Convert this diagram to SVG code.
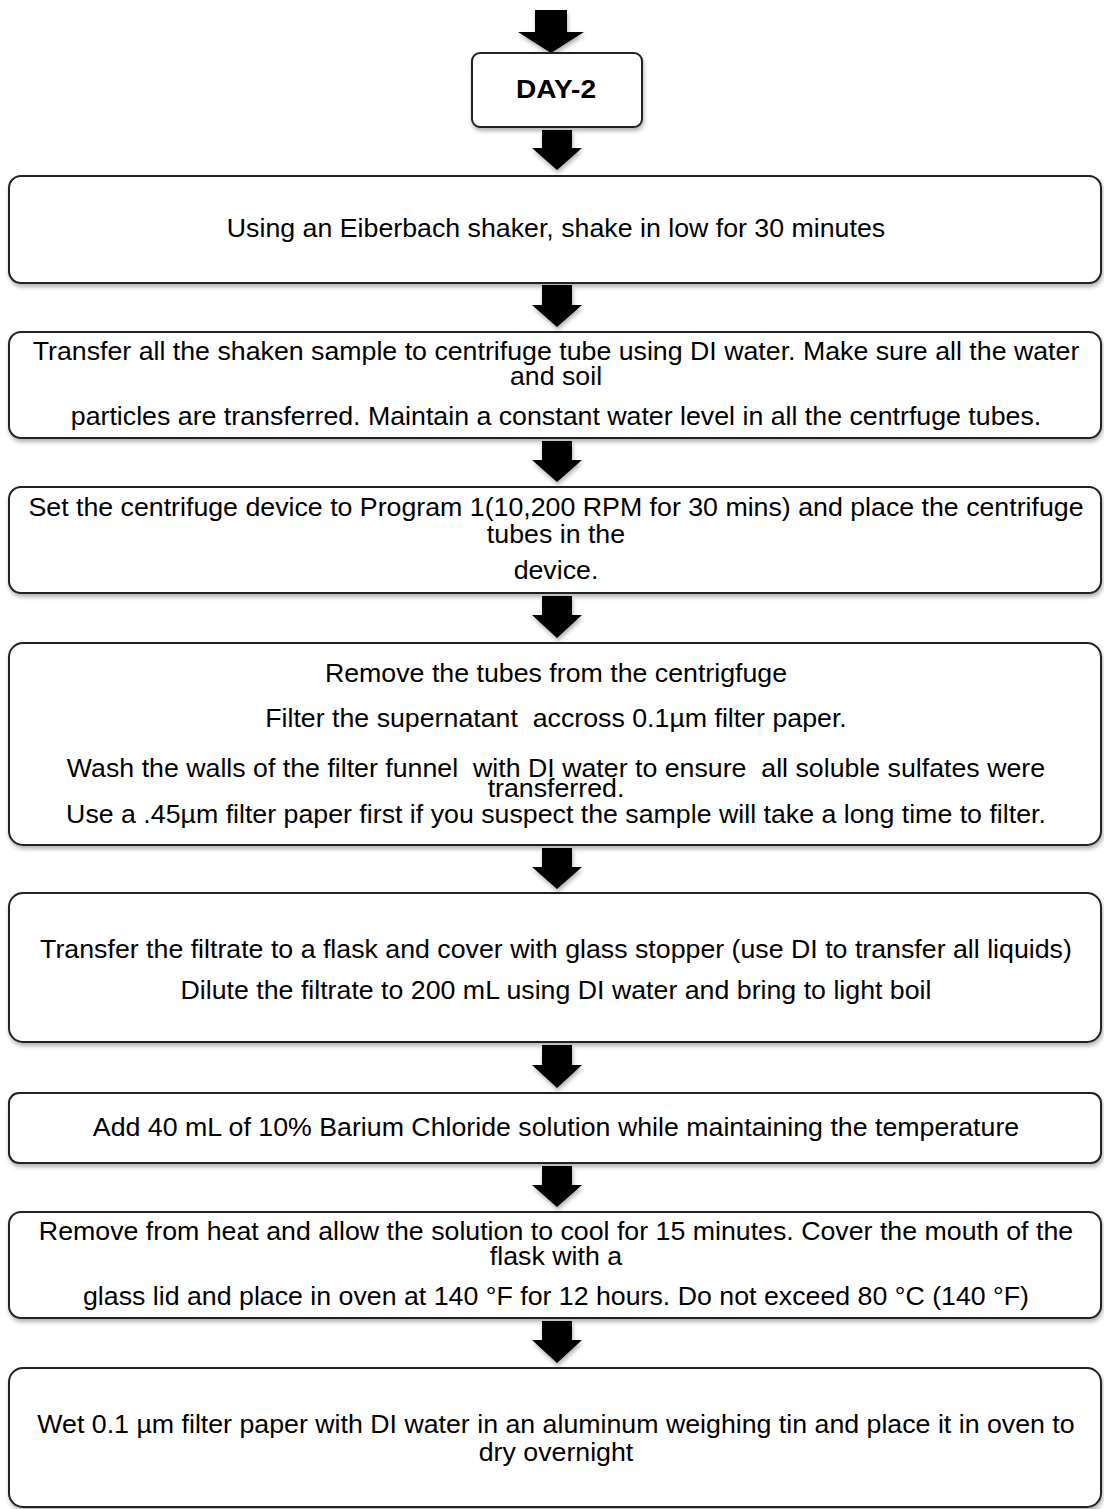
<svg xmlns="http://www.w3.org/2000/svg" width="1104" height="1509" viewBox="0 0 1104 1509">
<defs>
<filter id="sh" x="-5%" y="-20%" width="110%" height="150%">
<feDropShadow dx="1" dy="3" stdDeviation="2" flood-color="#000" flood-opacity="0.3"/>
</filter>
</defs>
<style>
.box{fill:#fff;stroke:#222;stroke-width:2;filter:url(#sh)}
.t{font-family:"Liberation Sans",Arial,sans-serif;font-size:25px;fill:#000;text-anchor:middle}
.b{font-weight:bold;font-size:26px}
.arr{fill:#000;filter:url(#sh)}
</style>
<rect width="1104" height="1509" fill="#fff"/>
<g id="connectors">
<polygon class="arr" points="535,10 567,10 567,32 584,32 551,53 518,32 535,32"/>
<polygon class="arr" points="542,130 572,130 572,148 582,148 557,170 532,148 542,148"/>
<polygon class="arr" points="542,285 572,285 572,305 582,305 557,327 532,305 542,305"/>
<polygon class="arr" points="542,441 572,441 572,460 582,460 557,482 532,460 542,460"/>
<polygon class="arr" points="542,596 572,596 572,615 582,615 557,638 532,615 542,615"/>
<polygon class="arr" points="542,848 572,848 572,867 582,867 557,889 532,867 542,867"/>
<polygon class="arr" points="542,1045 572,1045 572,1065 582,1065 557,1088 532,1065 542,1065"/>
<polygon class="arr" points="542,1166 572,1166 572,1185 582,1185 557,1207 532,1185 542,1185"/>
<polygon class="arr" points="542,1321 572,1321 572,1340 582,1340 557,1363 532,1340 542,1340"/>
</g>
<g id="day2">
<rect class="box" x="472" y="53" width="170" height="74" rx="8"/>
<text class="t b" x="556" y="98" transform="matrix(1.08 0 0 1 -44.48 0)">DAY-2</text>
</g>
<g id="step1">
<rect class="box" x="9" y="176" width="1092" height="107" rx="12"/>
<text class="t" x="556" y="237" transform="matrix(1.07 0 0 1 -38.92 0)">Using an Eiberbach shaker, shake in low for 30 minutes</text>
</g>
<g id="step2">
<rect class="box" x="9" y="332" width="1092" height="106" rx="12"/>
<text class="t" x="556" y="360" transform="matrix(1.07 0 0 1 -38.92 0)">Transfer all the shaken sample to centrifuge tube using DI water. Make sure all the water</text>
<text class="t" x="556" y="385" transform="matrix(1.07 0 0 1 -38.92 0)">and soil</text>
<text class="t" x="556" y="425" transform="matrix(1.07 0 0 1 -38.92 0)">particles are transferred. Maintain a constant water level in all the centrfuge tubes.</text>
</g>
<g id="step3">
<rect class="box" x="9" y="487" width="1092" height="106" rx="12"/>
<text class="t" x="556" y="516" transform="matrix(1.07 0 0 1 -38.92 0)">Set the centrifuge device to Program 1(10,200 RPM for 30 mins) and place the centrifuge</text>
<text class="t" x="556" y="543" transform="matrix(1.07 0 0 1 -38.92 0)">tubes in the</text>
<text class="t" x="556" y="579" transform="matrix(1.07 0 0 1 -38.92 0)">device.</text>
</g>
<g id="step4">
<rect class="box" x="9" y="643" width="1092" height="202" rx="14"/>
<text class="t" x="556" y="682" transform="matrix(1.07 0 0 1 -38.92 0)">Remove the tubes from the centrigfuge</text>
<text class="t" x="556" y="727" xml:space="preserve" transform="matrix(1.07 0 0 1 -38.92 0)">Filter the supernatant  accross 0.1µm filter paper.</text>
<text class="t" x="556" y="777" xml:space="preserve" transform="matrix(1.07 0 0 1 -38.92 0)">Wash the walls of the filter funnel  with DI water to ensure  all soluble sulfates were</text>
<text class="t" x="556" y="797" transform="matrix(1.07 0 0 1 -38.92 0)">transferred.</text>
<text class="t" x="556" y="823" transform="matrix(1.07 0 0 1 -38.92 0)">Use a .45µm filter paper first if you suspect the sample will take a long time to filter.</text>
</g>
<g id="step5">
<rect class="box" x="9" y="893" width="1092" height="149" rx="14"/>
<text class="t" x="556" y="958" transform="matrix(1.07 0 0 1 -38.92 0)">Transfer the filtrate to a flask and cover with glass stopper (use DI to transfer all liquids)</text>
<text class="t" x="556" y="999" transform="matrix(1.07 0 0 1 -38.92 0)">Dilute the filtrate to 200 mL using DI water and bring to light boil</text>
</g>
<g id="step6">
<rect class="box" x="9" y="1093" width="1092" height="70" rx="10"/>
<text class="t" x="556" y="1136" transform="matrix(1.07 0 0 1 -38.92 0)">Add 40 mL of 10% Barium Chloride solution while maintaining the temperature</text>
</g>
<g id="step7">
<rect class="box" x="9" y="1212" width="1092" height="106" rx="12"/>
<text class="t" x="556" y="1240" transform="matrix(1.07 0 0 1 -38.92 0)">Remove from heat and allow the solution to cool for 15 minutes. Cover the mouth of the</text>
<text class="t" x="556" y="1265" transform="matrix(1.07 0 0 1 -38.92 0)">flask with a</text>
<text class="t" x="556" y="1305" transform="matrix(1.07 0 0 1 -38.92 0)">glass lid and place in oven at 140 °F for 12 hours. Do not exceed 80 °C (140 °F)</text>
</g>
<g id="step8">
<rect class="box" x="9" y="1368" width="1092" height="139" rx="14"/>
<text class="t" x="556" y="1433" transform="matrix(1.07 0 0 1 -38.92 0)">Wet 0.1 µm filter paper with DI water in an aluminum weighing tin and place it in oven to</text>
<text class="t" x="556" y="1461" transform="matrix(1.07 0 0 1 -38.92 0)">dry overnight</text>
</g>
</svg>
